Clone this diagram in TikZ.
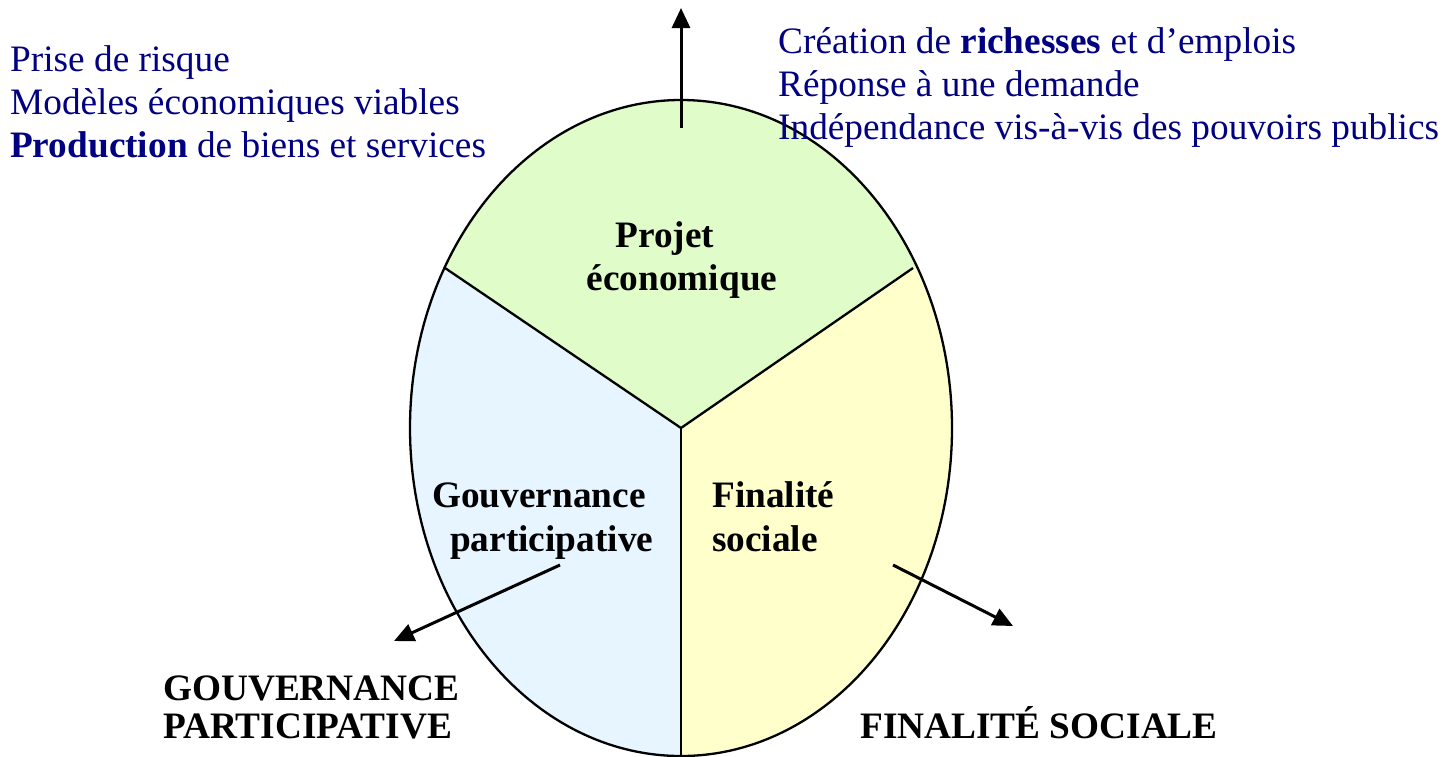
\documentclass[tikz,border=0pt]{standalone}
\usepackage{fontspec}
\setmainfont{Liberation Serif}
\usetikzlibrary{arrows.meta}
\definecolor{navytext}{RGB}{0,0,128}
\definecolor{ecogreen}{RGB}{224,252,200}
\definecolor{govblue}{RGB}{230,245,255}
\definecolor{socyellow}{RGB}{255,255,204}
\tikzset{
  bluetext/.style={text=navytext, font=\fontsize{37.3}{43}\selectfont, inner sep=0pt, anchor=base west},
  boldlabel/.style={text=black, font=\fontsize{37.3}{43}\selectfont\bfseries, inner sep=0pt},
  outarrow/.style={line width=3pt, -{Triangle[length=20pt,width=18pt]}},
  sector/.style={draw=black, line width=2.3pt},
}
\begin{document}
\begin{tikzpicture}[x=1pt,y=-1pt]
\useasboundingbox (0,0) rectangle (1442,756);
% centre and ellipse
\coordinate (C) at (681,428);
\coordinate (PL) at (445,268);
\coordinate (PR) at (913,268);
\coordinate (PB) at (681,756);
\begin{scope}
  \clip (681,428) ellipse [x radius=271, y radius=328];
  \fill[govblue] (C) -- (PL) -- (0,268) -- (0,800) -- (681,800) -- cycle;
  \fill[socyellow] (C) -- (PR) -- (1442,268) -- (1442,800) -- (681,800) -- cycle;
  \fill[ecogreen] (C) -- (PL) -- (0,268) -- (0,0) -- (1442,0) -- (1442,268) -- (PR) -- cycle;
\end{scope}
\draw[sector] (681,428) ellipse [x radius=271, y radius=328];
\draw[sector] (PL) -- (C) -- (PR);
\draw[sector] (C) -- (PB);
% arrows
\coordinate (topS) at (681,128);
\coordinate (topE) at (681,8);
\coordinate (leftS) at (560,565);
\coordinate (leftE) at (394,641);
\coordinate (rightS) at (893,565);
\coordinate (rightE) at (1013,626);
\draw[outarrow] (topS) -- (topE);
\draw[outarrow] (leftS) -- (leftE);
\draw[outarrow] (rightS) -- (rightE);
% left blue text
\node[bluetext] (l1) at (10,71) {Prise de risque};
\node[bluetext] (l2) at (10,114) {Modèles économiques viables};
\node[bluetext] (l3) at (10,157) {\textbf{Production} de biens et services};
% right blue text
\node[bluetext] (r1) at (778,53) {Création de \textbf{richesses} et d’emplois};
\node[bluetext] (r2) at (778,96) {Réponse à une demande};
\node[bluetext] (r3) at (778,139) {Indépendance vis-à-vis des pouvoirs publics};
% sector labels
\node[boldlabel, anchor=base] (p1) at (665,247) {Projet};
\node[boldlabel, anchor=base] (p2) at (682,290) {économique};
\node[boldlabel, anchor=base west] (g1) at (432,507) {Gouvernance};
\node[boldlabel, anchor=base west] (g2) at (450,551) {participative};
\node[boldlabel, anchor=base west] (f1) at (712,507) {Finalité};
\node[boldlabel, anchor=base west] (f2) at (712,551) {sociale};
% outer labels
\node[boldlabel, anchor=base west] (o1) at (163,700) {GOUVERNANCE};
\node[boldlabel, anchor=base west] (o2) at (163,738) {PARTICIPATIVE};
\node[boldlabel, anchor=base west] (o3) at (860,738) {FINALITÉ SOCIALE};
\end{tikzpicture}
\end{document}
